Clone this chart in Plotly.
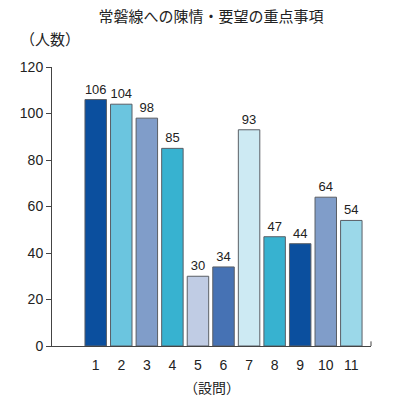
import plotly.graph_objects as go

categories = [1, 2, 3, 4, 5, 6, 7, 8, 9, 10, 11]
values = [106, 104, 98, 85, 30, 34, 93, 47, 44, 64, 54]
colors = ["#0b4f9e", "#6bc5df", "#809dc9", "#37b2d0", "#c0cce4", "#4672b4",
          "#cdeaf3", "#37b2d0", "#0b4f9e", "#809dc9", "#9bd8e9"]
yticks = [0, 20, 40, 60, 80, 100, 120]

FONT = "Liberation Sans, Arial, Noto Sans CJK JP, sans-serif"

fig = go.Figure(go.Bar(
    x=categories, y=values, width=0.84,
    marker=dict(color=colors, line=dict(color="#5a5f66", width=1)),
    text=[str(v) for v in values], textposition="outside",
    textfont=dict(size=13, color="#222", family=FONT),
    cliponaxis=False,
))

fig.update_layout(
    width=391, height=394,
    margin=dict(l=35, r=28, t=59, b=56),
    paper_bgcolor="white", plot_bgcolor="white",
    font=dict(family=FONT, color="#222"),
    showlegend=False,
    title=dict(text="常磐線への陳情・要望の重点事項", x=0.519, xanchor="center",
               y=0.979, yanchor="middle", font=dict(size=15, color="#222")),
    annotations=[
        dict(text="（人数）", xref="paper", yref="paper", x=-0.107, y=1.097,
             xanchor="left", yanchor="middle", showarrow=False,
             font=dict(size=15, color="#222")),
        dict(text="（設問）", xref="paper", yref="paper", x=0.5015, y=-0.15,
             xanchor="center", yanchor="middle", showarrow=False,
             font=dict(size=14, color="#222")),
    ],
    shapes=[dict(type="line", xref="paper", yref="y", x0=1, x1=1, y0=0, y1=2,
                 line=dict(color="#444", width=1))],
)
fig.update_xaxes(range=[-0.71, 11.77], tickvals=categories,
                 ticktext=[str(c) for c in categories],
                 showline=True, linecolor="#444", linewidth=1,
                 ticks="", showgrid=False, zeroline=False, ticklabelstandoff=6,
                 tickfont=dict(size=14, color="#222"))
fig.update_yaxes(range=[0, 120], tickvals=yticks,
                 showline=True, linecolor="#444", linewidth=1,
                 ticks="outside", ticklen=5, tickcolor="#444",
                 showgrid=False, zeroline=False,
                 tickfont=dict(size=14, color="#222"))

fig.write_html("out.html")
